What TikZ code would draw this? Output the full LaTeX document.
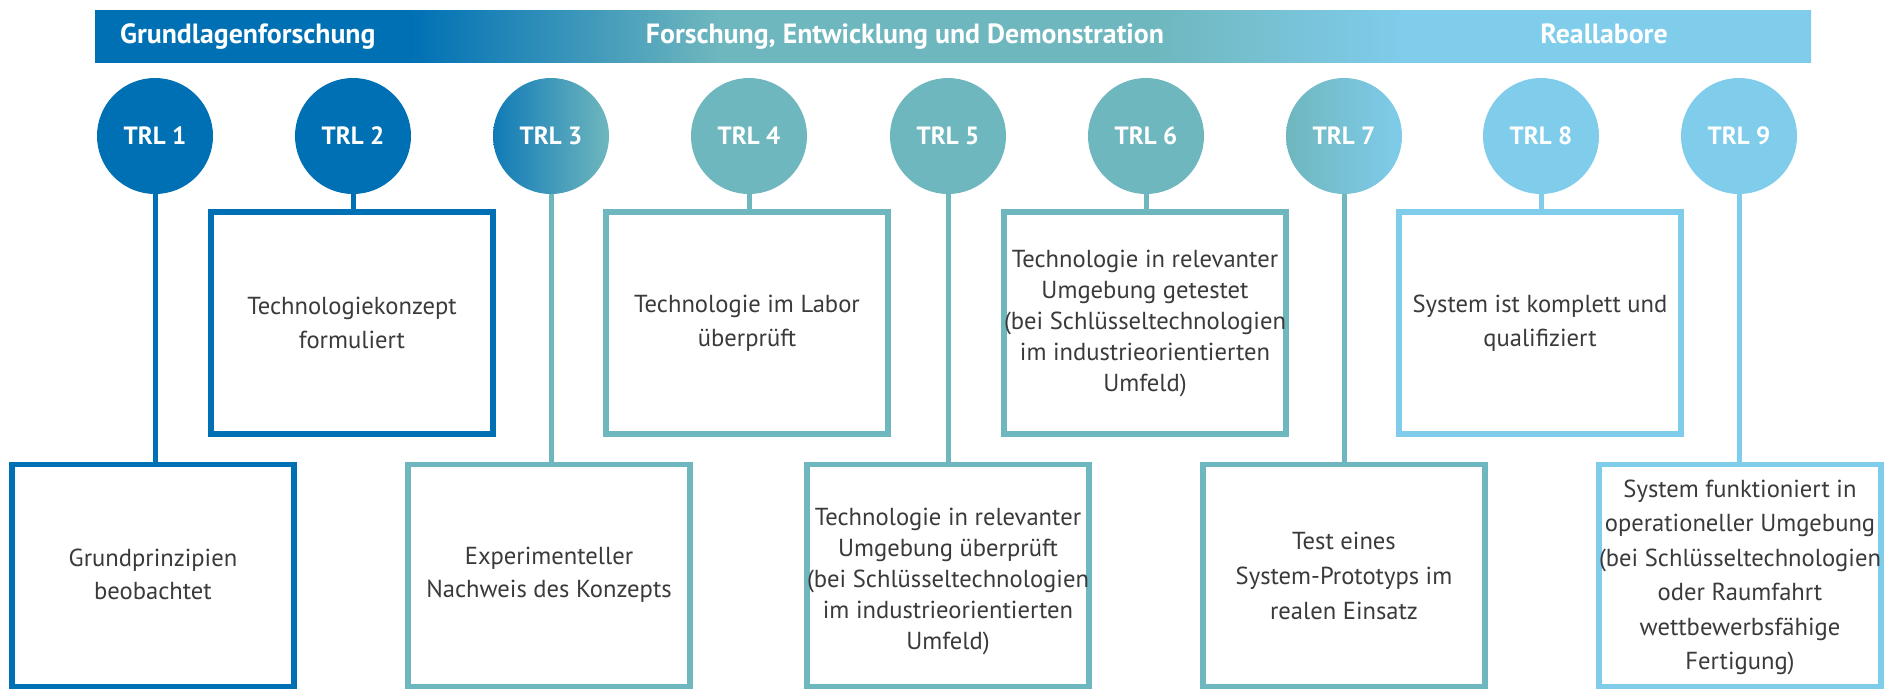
\documentclass[tikz,border=0pt]{standalone}
\usepackage{fontspec}
\setmainfont{PT Sans}
\definecolor{cblue}{RGB}{0,112,181}
\definecolor{cteal}{RGB}{111,183,190}
\definecolor{clight}{RGB}{127,204,235}
\definecolor{tgray}{RGB}{58,58,58}
\pgfdeclarehorizontalshading{bannershade}{100bp}{color(0bp)=(cblue); color(25bp)=(cblue); color(34.2bp)=(cblue); color(43.2bp)=(cteal); color(55.8bp)=(cteal); color(63.1bp)=(clight); color(75bp)=(clight); color(100bp)=(clight)}
\begin{document}
\begin{tikzpicture}[x=1pt,y=-1pt,
  trl/.style={circle, minimum size=116pt, inner sep=0pt, text=white, font=\fontsize{25}{28}\selectfont\bfseries},
  frame/.style={draw, line width=5.5pt, fill=white, minimum width=282pt, minimum height=222pt, inner sep=0pt},
  txt/.style={align=center, inner sep=0pt, text=tgray, font=\fontsize{24.6}{33.5}\selectfont},
  txtthree/.style={txt, font=\fontsize{24.6}{35}\selectfont},
  txtdense/.style={txt, font=\fontsize{24.6}{31}\selectfont},
  txtsix/.style={txt, font=\fontsize{24.6}{34.4}\selectfont},
  stem/.style={line width=5pt},
  band/.style={font=\fontsize{27.8}{32}\selectfont\bfseries, text=white, inner sep=0pt}
]
\useasboundingbox (0,0) rectangle (1885,689);
% banner
\shade[shading=bannershade] (95,10) rectangle (1811,62);
\node[band, anchor=base west] (h1) at (120,43) {Grundlagenforschung};
\node[band, anchor=base] (h2) at (905,43) {Forschung, Entwicklung und Demonstration};
\node[band, anchor=base] (h3) at (1604,43) {Reallabore};
% circles
\node[trl, fill=cblue] (c1) at (155,136) {TRL 1};
\node[trl, fill=cblue] (c2) at (353,136) {TRL 2};
\node[trl, left color=cblue!85!cteal, right color=cteal] (c3) at (551,136) {TRL 3};
\node[trl, fill=cteal] (c4) at (749,136) {TRL 4};
\node[trl, fill=cteal] (c5) at (948,136) {TRL 5};
\node[trl, fill=cteal] (c6) at (1146,136) {TRL 6};
\node[trl, left color=cteal, right color=clight] (c7) at (1344,136) {TRL 7};
\node[trl, fill=clight] (c8) at (1541,136) {TRL 8};
\node[trl, fill=clight] (c9) at (1739,136) {TRL 9};
% boxes
\node[frame, draw=cblue] (b1) at (153,575.5) {};
\node[frame, draw=cblue] (b2) at (352,323) {};
\node[frame, draw=cteal] (b3) at (549,575.5) {};
\node[frame, draw=cteal] (b4) at (747,323) {};
\node[frame, draw=cteal] (b5) at (948,575.5) {};
\node[frame, draw=cteal] (b6) at (1145,323) {};
\node[frame, draw=cteal] (b7) at (1344,575.5) {};
\node[frame, draw=clight] (b8) at (1540,323) {};
\node[frame, draw=clight] (b9) at (1740,575.5) {};
% texts
\node[txt] (t1) at ([yshift=1pt]b1.center) {Grundprinzipien\\beobachtet};
\node[txt] (t2) at (b2.center) {Technologiekonzept\\formuliert};
\node[txt] (t3) at ([yshift=1pt]b3.center) {Experimenteller\\Nachweis des Konzepts};
\node[txt] (t4) at (b4.center) {Technologie im Labor\\überprüft};
\node[txtdense] (t5) at ([yshift=-6pt]b5.center) {Technologie in relevanter\\Umgebung überprüft\\(bei Schlüsseltechnologien\\im industrieorientierten\\Umfeld)};
\node[txtdense] (t6) at (b6.center) {Technologie in relevanter\\Umgebung getestet\\(bei Schlüsseltechnologien\\im industrieorientierten\\Umfeld)};
\node[txtthree] (t7) at (b7.center) {Test eines\\System-Prototyps im\\realen Einsatz};
\node[txt] (t8) at (b8.center) {System ist komplett und\\qualifiziert};
\node[txtsix] (t9) at ([yshift=-2pt]b9.center) {System funktioniert in\\operationeller Umgebung\\(bei Schlüsseltechnologien\\oder Raumfahrt\\wettbewerbsfähige\\Fertigung)};
% stems
\draw[stem, cblue] (c1.south) -- (c1.south |- b1.north);
\draw[stem, cblue] (c2.south) -- (c2.south |- b2.north);
\draw[stem, cteal] (c3.south) -- (c3.south |- b3.north);
\draw[stem, cteal] (c4.south) -- (c4.south |- b4.north);
\draw[stem, cteal] (c5.south) -- (c5.south |- b5.north);
\draw[stem, cteal] (c6.south) -- (c6.south |- b6.north);
\draw[stem, cteal] (c7.south) -- (c7.south |- b7.north);
\draw[stem, clight] (c8.south) -- (c8.south |- b8.north);
\draw[stem, clight] (c9.south) -- (c9.south |- b9.north);
\end{tikzpicture}
\end{document}
